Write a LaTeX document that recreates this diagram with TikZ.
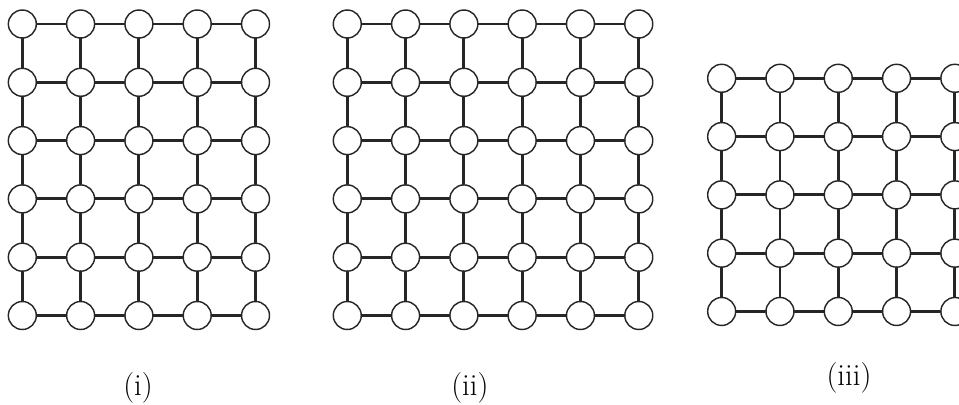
\documentclass[tikz,border=0pt]{standalone}
\usetikzlibrary{calc}
\tikzset{
    lab/.style={
        font=\fontsize{15}{18}\selectfont
    }
}
\begin{document}
\begin{tikzpicture}[x=1cm,y=1cm, line cap=round, line join=round]

\tikzset{
  main/.style={draw=black!85, line width=1.4pt},
  vtx/.style={circle, draw=black!85, fill=white, line width=0.7pt, minimum size=0.48cm, inner sep=0pt},
}

\useasboundingbox (0,0) rectangle (16.45,6.947);
\clip (0,0) rectangle (16.45,6.947);

% grid (i): 5 columns, 6 rows
\foreach \c in {1,...,5}
  \foreach \r in {1,...,6}
    \node[vtx] (A\c-\r) at ({0.383+\c-1},{6.535-\r+1}) {};
\foreach \r in {1,...,6}
  \foreach \c/\n in {1/2,2/3,3/4,4/5}
    \draw[main] (A\c-\r) -- (A\n-\r);
\foreach \c in {1,...,5}
  \foreach \r/\s in {1/2,2/3,3/4,4/5,5/6}
    \draw[main] (A\c-\r) -- (A\c-\s);

% grid (ii): 6 columns, 6 rows
\foreach \c in {1,...,6}
  \foreach \r in {1,...,6}
    \node[vtx] (B\c-\r) at ({5.957+\c-1},{6.535-\r+1}) {};
\foreach \r in {1,...,6}
  \foreach \c/\n in {1/2,2/3,3/4,4/5,5/6}
    \draw[main] (B\c-\r) -- (B\n-\r);
\foreach \c in {1,...,6}
  \foreach \r/\s in {1/2,2/3,3/4,4/5,5/6}
    \draw[main] (B\c-\r) -- (B\c-\s);

% grid (iii): 5 columns, 5 rows
\foreach \c in {1,...,5}
  \foreach \r in {1,...,5}
    \node[vtx] (C\c-\r) at ({12.379+\c-1},{5.604-\r+1}) {};
\foreach \r in {1,...,5}
  \foreach \c/\n in {1/2,2/3,3/4,4/5}
    \draw[main] (C\c-\r) -- (C\n-\r);
\foreach \c in {1,...,5}
  \foreach \r/\s in {1/2,2/3,3/4,4/5}
    \draw[main] (C\c-\r) -- (C\c-\s);

% labels
\node[lab] (labA) at (2.367,0.29) {(i)};
\node[lab] (labB) at (8.06,0.29) {(ii)};
\node[lab] (labC) at (14.563,0.463) {(iii)};

\end{tikzpicture}
\end{document}
